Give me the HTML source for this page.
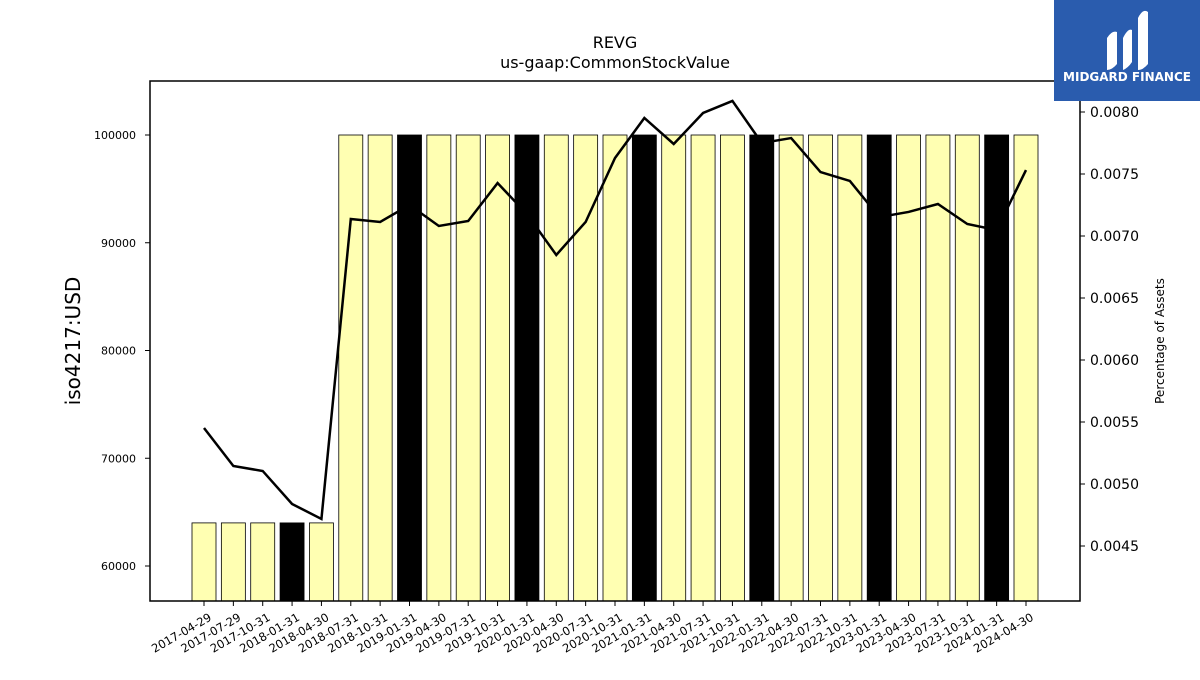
<!DOCTYPE html>
<html><head><meta charset="utf-8"><style>
body{margin:0;background:#fff;width:1200px;height:675px;overflow:hidden;font-family:"Liberation Sans","DejaVu Sans",sans-serif}
</style></head><body>
<svg id="chart" width="1200" height="675" xmlns="http://www.w3.org/2000/svg" font-family="DejaVu Sans, Liberation Sans, sans-serif">
<text x="615" y="48" text-anchor="middle" font-size="16">REVG</text>
<text x="615" y="68" text-anchor="middle" font-size="16">us-gaap:CommonStockValue</text>
<g id="bars"></g><g id="line"></g><g id="axes"></g>
<rect x="150" y="81" width="930" height="520" fill="none" stroke="#000" stroke-width="1.5"/>
<text transform="translate(80,341) rotate(-90)" text-anchor="middle" font-size="20">iso4217:USD</text>
<text transform="translate(1164,341) rotate(-90)" text-anchor="middle" font-size="12">Percentage of Assets</text>
<g>
<rect x="1054" y="0" width="146" height="101" fill="#2a5cae"/>
<path d="M1107 70 L1107 38 Q1112 30 1117 32 L1117 64 Q1112 70 1107 70Z M1123 70 L1123 38 Q1128 28 1132 30 L1132 62 Q1128 68 1123 70Z M1138 70 L1138 18 Q1143 8 1148 12 L1148 64 Q1143 70 1138 70Z" fill="#fff"/>
<text x="1127" y="81" text-anchor="middle" font-size="12" font-weight="bold" fill="#fff">MIDGARD FINANCE</text>
</g>
</svg>
<script>
const dates=["2017-04-29","2017-07-29","2017-10-31","2018-01-31","2018-04-30","2018-07-31","2018-10-31","2019-01-31","2019-04-30","2019-07-31","2019-10-31","2020-01-31","2020-04-30","2020-07-31","2020-10-31","2021-01-31","2021-04-30","2021-07-31","2021-10-31","2022-01-31","2022-04-30","2022-07-31","2022-10-31","2023-01-31","2023-04-30","2023-07-31","2023-10-31","2024-01-31","2024-04-30"];
const values=[64000,64000,64000,64000,64000,100000,100000,100000,100000,100000,100000,100000,100000,100000,100000,100000,100000,100000,100000,100000,100000,100000,100000,100000,100000,100000,100000,100000,100000];
const pct=[0.005452,0.005145,0.005105,0.004839,0.004718,0.007137,0.007113,0.00725,0.007081,0.007121,0.007427,0.007177,0.006847,0.007113,0.007629,0.007952,0.007742,0.007992,0.008089,0.00775,0.00779,0.007516,0.007444,0.007153,0.007194,0.007258,0.007097,0.007048,0.007532];
const highlight=[3,7,11,15,19,23,27];
const yTicks=[60000,70000,80000,90000,100000];
const y2Ticks=[0.0045,0.005,0.0055,0.006,0.0065,0.007,0.0075,0.008];
const NS="http://www.w3.org/2000/svg";
const x=i=>204+i*(1026-204)/(dates.length-1);
const y=v=>566-(v-60000)/10000*107.75;
const y2=v=>112+(0.008-v)/0.0005*62;
function mk(t,a,p){const e=document.createElementNS(NS,t);for(const k in a)e.setAttribute(k,a[k]);p.appendChild(e);return e;}
const bars=document.getElementById('bars'),line=document.getElementById('line'),axes=document.getElementById('axes');
values.forEach((v,i)=>{
 const r=mk('rect',{x:x(i)-12,y:y(v),width:24,height:601-y(v),fill:highlight.includes(i)?'#000':'#ffffb2',stroke:'#000','stroke-width':0.8},bars);
 
 
 const t=mk('line',{x1:x(i),x2:x(i),y1:601,y2:606,stroke:'#000'},axes);
 
 
 const l=mk('text',{transform:`translate(${x(i)+4},612) rotate(-30)`,'text-anchor':'end','font-size':11.5,'dominant-baseline':'hanging'},axes);
 l.textContent=dates[i];
 
 
});
const pl=mk('polyline',{points:pct.map((v,i)=>x(i)+','+y2(v)).join(' '),fill:'none',stroke:'#000','stroke-width':2.5},line);


yTicks.forEach(v=>{
 const t=mk('line',{x1:145,x2:150,y1:y(v),y2:y(v),stroke:'#000'},axes);
 
 
 const l=mk('text',{x:136,y:y(v)+4,'text-anchor':'end','font-size':11},axes);
 l.textContent=v;
 
 
});
y2Ticks.forEach(v=>{
 const t=mk('line',{x1:1080,x2:1085,y1:y2(v),y2:y2(v),stroke:'#000'},axes);
 
 
 const l=mk('text',{x:1090,y:y2(v)+5,'font-size':14},axes);
 l.textContent=v.toFixed(4);
 
 
});
</script>
</body></html>
